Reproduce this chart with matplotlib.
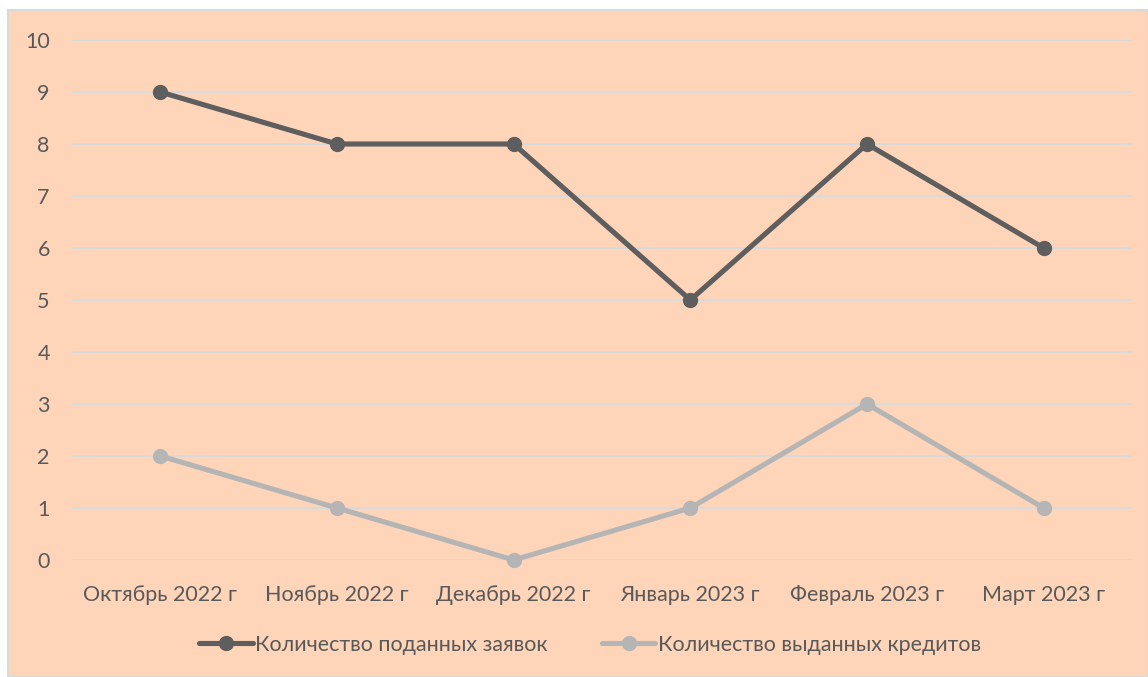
import matplotlib.pyplot as plt
from matplotlib.patches import Rectangle

months = ["Октябрь 2022 г", "Ноябрь 2022 г", "Декабрь 2022 г",
          "Январь 2023 г", "Февраль 2023 г", "Март 2023 г"]
applications = [9, 8, 8, 5, 8, 6]
credits = [2, 1, 0, 1, 3, 1]

plt.rcParams['font.family'] = ['Lato', 'DejaVu Sans']
txt = '#595959'
bg = '#FFD5BA'
fs = 15.5

W, H = 1148, 677
fig = plt.figure(figsize=(W / 100, H / 100), dpi=100)
fig.patch.set_facecolor('white')
fig.add_artist(Rectangle((8 / W, 0), 1 - 8 / W, 1 - 10 / H, transform=fig.transFigure,
                         facecolor=bg, edgecolor='#D9D9D9', linewidth=1.5, zorder=-10))

ax = fig.add_axes([72 / W, 1 - 560 / H, (1132 - 72) / W, (560 - 40) / H])
ax.set_facecolor('none')
x = range(len(months))
ax.plot(x, applications, color='#5E5E5E', lw=3.7, marker='o', ms=10,
        label="Количество поданных заявок", solid_capstyle='round', zorder=3)
ax.plot(x, credits, color='#B5B5B5', lw=3.7, marker='o', ms=10,
        label="Количество выданных кредитов", solid_capstyle='round', zorder=3)

ax.set_xlim(-0.5, len(months) - 0.5)
ax.set_ylim(0, 10)
ax.set_yticks(range(0, 11))
ax.set_xticks(list(x))
ax.set_xticklabels(months)
ax.grid(axis='y', color='#D9D9D9', lw=1.5)
ax.set_axisbelow(True)
for s in ax.spines.values():
    s.set_visible(False)
ax.tick_params(length=0, colors=txt, labelsize=fs)
ax.tick_params(axis='x', pad=18)
ax.tick_params(axis='y', pad=16)
for line in ax.get_lines():
    line.set_clip_on(False)

leg = fig.legend(loc='center', bbox_to_anchor=(590 / W, 1 - 645 / H), ncol=2,
                 frameon=False, fontsize=fs, handlelength=2.5, handletextpad=0.1,
                 columnspacing=2.5)
for t in leg.get_texts():
    t.set_color(txt)

fig.savefig('out.png', dpi=100)
